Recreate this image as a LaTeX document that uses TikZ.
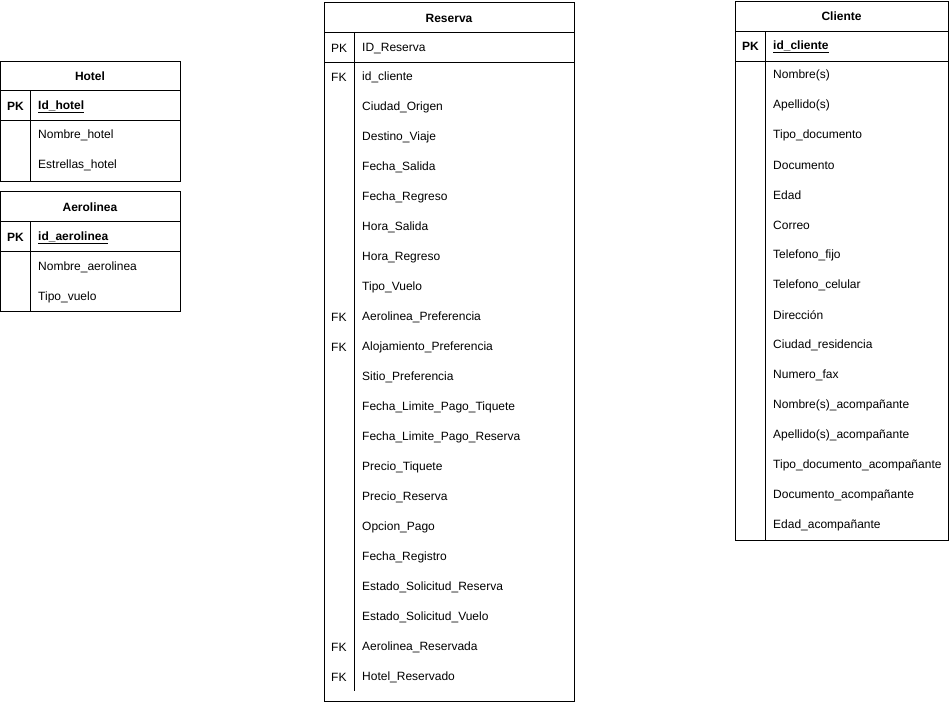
\documentclass[tikz,border=0pt]{standalone}
\usepackage{fontspec}
\setmainfont{Liberation Sans}
\begin{document}
\begin{tikzpicture}[x=1pt,y=-1pt,
  tbl/.style={draw, line width=0.8pt, anchor=north west, inner sep=0pt},
  sep/.style={line width=0.8pt},
  ttl/.style={font=\fontsize{12}{14}\selectfont\bfseries, inner sep=0pt, yshift=-1pt},
  key/.style={font=\fontsize{12}{14}\selectfont\bfseries, anchor=west, inner sep=0pt, yshift=-1.5pt},
  fk/.style={font=\fontsize{12}{14}\selectfont, anchor=west, inner sep=0pt, yshift=-1.5pt},
  attr/.style={font=\fontsize{12}{14}\selectfont, anchor=west, inner sep=0pt, yshift=-1.5pt},
  pkattr/.style={font=\fontsize{12}{14}\selectfont\bfseries, anchor=west, inner sep=0pt, yshift=-1.5pt}
]
\useasboundingbox (0,0) rectangle (950,702);

% ---------- Hotel ----------
\node[tbl, minimum width=180pt, minimum height=120pt] (hotel) at (0,60.5) {};
\draw[sep] (0,90.5) -- (180,90.5);
\draw[sep] (0,120.5) -- (180,120.5);
\draw[sep] (30.5,90.5) -- (30.5,180.5);
\node[ttl] (hoteltitle) at (90,75) {Hotel};
\node[key] (hotelpk) at (7,105) {PK};
\node[pkattr] (hotelid) at (38,105) {\underline{Id\_hotel}};
\node[attr] (hotel1) at (38,134) {Nombre\_hotel};
\node[attr] (hotel2) at (38,164) {Estrellas\_hotel};

% ---------- Aerolinea ----------
\node[tbl, minimum width=180pt, minimum height=120pt] (aero) at (0,191) {};
\draw[sep] (0,221) -- (180,221);
\draw[sep] (0,251) -- (180,251);
\draw[sep] (30.5,221) -- (30.5,311);
\node[ttl] (aerotitle) at (90,206) {Aerolinea};
\node[key] (aeropk) at (7,236) {PK};
\node[pkattr] (aeroid) at (38,236) {\underline{id\_aerolinea}};
\node[attr] (aero1) at (38,266) {Nombre\_aerolinea};
\node[attr] (aero2) at (38,296) {Tipo\_vuelo};

% ---------- Reserva ----------
\node[tbl, minimum width=250pt, minimum height=699pt] (reserva) at (324,2) {};
\draw[sep] (324,32) -- (574,32);
\draw[sep] (324,62) -- (574,62);
\draw[sep] (354,32) -- (354,691);
\node[ttl] (restitle) at (449,17) {Reserva};
\node[fk] (respk) at (331,47) {PK};
\node[attr] (resid) at (362,47) {ID\_Reserva};
\foreach \t [count=\i from 0] in {id\_cliente, Ciudad\_Origen, Destino\_Viaje, Fecha\_Salida, Fecha\_Regreso, Hora\_Salida, Hora\_Regreso, Tipo\_Vuelo, Aerolinea\_Preferencia, Alojamiento\_Preferencia, Sitio\_Preferencia, Fecha\_Limite\_Pago\_Tiquete, Fecha\_Limite\_Pago\_Reserva, Precio\_Tiquete, Precio\_Reserva, Opcion\_Pago, Fecha\_Registro, Estado\_Solicitud\_Reserva, Estado\_Solicitud\_Vuelo, Aerolinea\_Reservada, Hotel\_Reservado}
  \node[attr] (res\i) at (362,76+30*\i) {\t};
\foreach \i in {0,8,9,19,20}
  \node[fk] (resfk\i) at (331,76+30*\i) {FK};

% ---------- Cliente ----------
\node[tbl, minimum width=213pt, minimum height=539pt] (cliente) at (735,1) {};
\draw[sep] (735,31) -- (948,31);
\draw[sep] (735,61) -- (948,61);
\draw[sep] (765.5,31) -- (765.5,540);
\node[ttl] (clititle) at (841.5,15) {Cliente};
\node[key] (clipk) at (742,45) {PK};
\node[pkattr] (cliid) at (773,45) {\underline{id\_cliente}};
\foreach \t [count=\i from 0] in {Nombre(s), Apellido(s), Tipo\_documento, Documento, Edad, Correo, Telefono\_fijo, Telefono\_celular, Dirección, Ciudad\_residencia, Numero\_fax, Nombre(s)\_acompañante, Apellido(s)\_acompañante, Tipo\_documento\_acompañante, Documento\_acompañante, Edad\_acompañante}
  \node[attr] (cli\i) at (773,74+30*\i) {\t};
\end{tikzpicture}
\end{document}
